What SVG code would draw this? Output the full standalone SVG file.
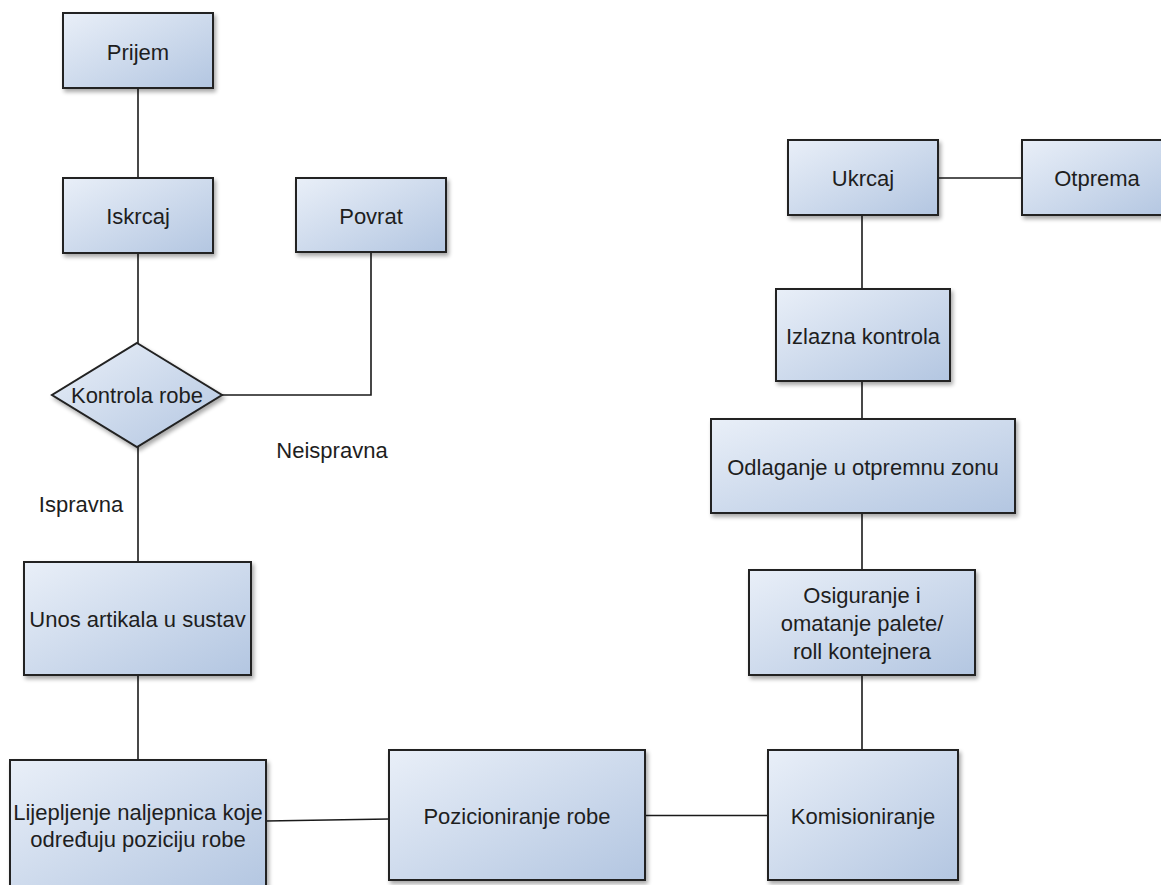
<svg xmlns="http://www.w3.org/2000/svg" width="1161" height="885" viewBox="0 0 1161 885">
<defs>
<linearGradient id="g" x1="0" y1="0" x2="1" y2="1">
<stop offset="0" stop-color="#e9eff8"/>
<stop offset="1" stop-color="#b3c6e1"/>
</linearGradient>
<filter id="sh" x="-10%" y="-10%" width="125%" height="130%">
<feGaussianBlur in="SourceAlpha" stdDeviation="2"/>
<feOffset dx="2" dy="3" result="b"/>
<feComponentTransfer><feFuncA type="linear" slope="0.35"/></feComponentTransfer>
<feMerge><feMergeNode/><feMergeNode in="SourceGraphic"/></feMerge>
</filter>
</defs>
<style>
.n{fill:url(#g);stroke:#222;stroke-width:2;filter:url(#sh)}
.t{font-family:"Liberation Sans",Arial,sans-serif;font-size:22px;fill:#1e1e1e;text-anchor:middle}
.l{font-family:"Liberation Sans",Arial,sans-serif;font-size:22px;fill:#1e1e1e;text-anchor:middle}
.c{fill:none;stroke:#1a1a1a;stroke-width:1.6}
</style>
<rect width="1161" height="885" fill="#ffffff"/>
<g id="connectors">
<path class="c" d="M138 88V178"/>
<path class="c" d="M138 253V343"/>
<path class="c" d="M222 395H371V252"/>
<path class="c" d="M138 447V562"/>
<path class="c" d="M138 675V760"/>
<path class="c" d="M266 821L389 819"/>
<path class="c" d="M645 815.5H768"/>
<path class="c" d="M862 750V675"/>
<path class="c" d="M862 570V513"/>
<path class="c" d="M862 419V381"/>
<path class="c" d="M862 289V215"/>
<path class="c" d="M938 178H1022"/>
</g>
<g id="prijem"><rect class="n" x="63" y="13" width="150" height="75"/><text class="t" x="138" y="60">Prijem</text></g>
<g id="iskrcaj"><rect class="n" x="63" y="178" width="150" height="75"/><text class="t" x="138" y="224">Iskrcaj</text></g>
<g id="povrat"><rect class="n" x="296" y="178" width="150" height="74"/><text class="t" x="371" y="224">Povrat</text></g>
<g id="kontrola"><polygon class="n" points="137,343 222,395 137,447 52,395"/><text class="t" x="137" y="403">Kontrola robe</text></g>
<g id="label-neispravna"><text class="l" x="332" y="458">Neispravna</text></g>
<g id="label-ispravna"><text class="l" x="81" y="512">Ispravna</text></g>
<g id="unos"><rect class="n" x="24" y="562" width="227" height="113"/><text class="t" x="137.5" y="627">Unos artikala u sustav</text></g>
<g id="lijepljenje"><rect class="n" x="10" y="760" width="256" height="132"/><text class="t" x="138" y="820">Lijepljenje naljepnica koje</text><text class="t" x="138" y="847">određuju poziciju robe</text></g>
<g id="pozicioniranje"><rect class="n" x="389" y="750" width="256" height="130"/><text class="t" x="517" y="824">Pozicioniranje robe</text></g>
<g id="komisioniranje"><rect class="n" x="768" y="750" width="190" height="130"/><text class="t" x="863" y="824">Komisioniranje</text></g>
<g id="osiguranje"><rect class="n" x="749" y="570" width="226" height="105"/><text class="t" x="862" y="603">Osiguranje i</text><text class="t" x="862" y="631">omatanje palete/</text><text class="t" x="862" y="659">roll kontejnera</text></g>
<g id="odlaganje"><rect class="n" x="711" y="419" width="304" height="94"/><text class="t" x="863" y="475">Odlaganje u otpremnu zonu</text></g>
<g id="izlazna"><rect class="n" x="776" y="289" width="174" height="92"/><text class="t" x="863" y="344">Izlazna kontrola</text></g>
<g id="ukrcaj"><rect class="n" x="788" y="140" width="150" height="75"/><text class="t" x="863" y="186">Ukrcaj</text></g>
<g id="otprema"><rect class="n" x="1022" y="140" width="150" height="75"/><text class="t" x="1097" y="186">Otprema</text></g>
</svg>
